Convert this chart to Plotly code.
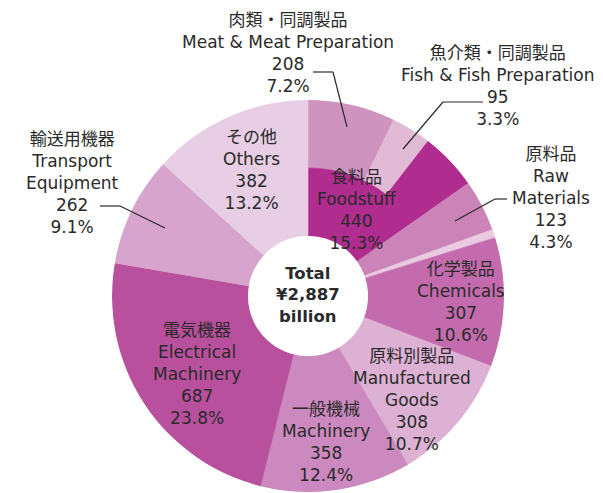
import plotly.graph_objects as go

# ---------------- data ----------------
total_value = 2887
total_label = ["Total", "¥2,887", "billion"]

# main categories clockwise from 12 o'clock
categories_jp = ["食料品", "原料品", "鉱物性燃料", "化学製品", "原料別製品", "一般機械", "電気機器", "輸送用機器", "その他"]
categories_en = ["Foodstuff", "Raw<br>Materials", "Mineral Fuels", "Chemicals", "Manufactured<br>Goods",
                 "Machinery", "Electrical<br>Machinery", "Transport<br>Equipment", "Others"]
values = [440, 123, 20, 307, 308, 358, 687, 262, 382]
pct_labels = ["15.3%", "4.3%", "", "10.6%", "10.7%", "12.4%", "23.8%", "9.1%", "13.2%"]
colors = ["#B02C8E", "#CB83B8", "#E9CAE1", "#C46BAE", "#DDB1D4", "#CC89BF", "#B9509E", "#D6A4CC", "#E8CEE5"]

# sub-categories of Foodstuff (outer ring)
sub_jp = ["肉類・同調製品", "魚介類・同調製品"]
sub_en = ["Meat & Meat Preparation", "Fish & Fish Preparation"]
sub_values = [208, 95]
sub_pct = ["7.2%", "3.3%"]
sub_colors = ["#CE93BF", "#E1BAD6"]

# ---------------- geometry (styling) ----------------
W, H = 603, 493
CX, CY, R, HOLE = 308, 296, 196, 60
R_INNER = 128  # radius where foodstuff sub-ring starts
deg_per = 360.0 / total_value
TXT = "#2a2a2a"
FONT = "DejaVu Sans, Noto Sans CJK JP, sans-serif"

thetas, widths, bases, rs, cols = [], [], [], [], []
ring = R - HOLE
inner = R_INNER - HOLE

sub_start = 0.0
for v, c in zip(sub_values, sub_colors):
    w = v * deg_per
    thetas.append(sub_start + w / 2); widths.append(w); bases.append(inner); rs.append(ring - inner); cols.append(c)
    sub_start += w
sub_total_deg = sum(sub_values) * deg_per
thetas.append(sub_total_deg / 2); widths.append(sub_total_deg); bases.append(0); rs.append(inner); cols.append(colors[0])
food_deg = values[0] * deg_per
thetas.append((sub_total_deg + food_deg) / 2); widths.append(food_deg - sub_total_deg); bases.append(0); rs.append(ring); cols.append(colors[0])
start = food_deg
for v, c in zip(values[1:], colors[1:]):
    w = v * deg_per
    thetas.append(start + w / 2); widths.append(w); bases.append(0); rs.append(ring); cols.append(c)
    start += w

fig = go.Figure()
fig.add_trace(go.Barpolar(
    theta=thetas, width=widths, base=bases, r=rs,
    marker=dict(color=cols, line=dict(color=cols, width=0.6)),
    hoverinfo="skip", showlegend=False,
))

fig.update_layout(
    width=W, height=H,
    margin=dict(l=0, r=0, t=0, b=0),
    paper_bgcolor="white", plot_bgcolor="white",
    polar=dict(
        domain=dict(x=[(CX - R) / W, (CX + R) / W], y=[1 - (CY + R) / H, 1 - (CY - R) / H]),
        hole=HOLE / R,
        bgcolor="white",
        radialaxis=dict(range=[0, ring], visible=False, showgrid=False),
        angularaxis=dict(rotation=90, direction="clockwise", visible=False, showgrid=False),
        bargap=0,
    ),
    font=dict(family=FONT, color=TXT, size=16),
)

def px(x, y):
    return x / W, 1 - y / H

def label(x, y, text, size=17):
    ax, ay = px(x, y)
    fig.add_annotation(x=ax, y=ay, xref="paper", yref="paper", text=text, showarrow=False,
                       font=dict(size=size, color=TXT, family=FONT), align="center",
                       xanchor="center", yanchor="middle")

def fmt(jp, en, v, p):
    return f"{jp}<br>{en}<br>{v}<br>{p}"

# label block centres (pixels)
pos_main = [(357, 210), (551, 198), None, (461, 302), (412, 400), (326, 442), (197, 374), (72, 183), (251, 170)]
for jp, en, v, p, pos in zip(categories_jp, categories_en, values, pct_labels, pos_main):
    if pos is None:
        continue
    label(pos[0], pos[1], fmt(jp, en, v, p))

pos_sub = [(288, 53), (497, 86)]
for jp, en, v, p, pos in zip(sub_jp, sub_en, sub_values, sub_pct, pos_sub):
    label(pos[0], pos[1], fmt(jp, en, v, p))

label(CX, 295, "<b>" + "<br>".join(total_label) + "</b>", size=16.5)
fig.add_shape(type="circle", xref="paper", yref="paper",
              x0=(CX - HOLE) / W, x1=(CX + HOLE) / W, y0=1 - (CY + HOLE) / H, y1=1 - (CY - HOLE) / H,
              line=dict(width=0), fillcolor="white", layer="below")

# leader lines
leaders = [
    [(313, 72), (333, 72), (347, 127)],
    [(483, 102), (443, 102), (403, 149)],
    [(507, 199), (495, 199), (455, 221)],
    [(100, 206), (120, 206), (165, 228)],
]
for pts in leaders:
    for (x0, y0), (x1, y1) in zip(pts[:-1], pts[1:]):
        a0, b0 = px(x0, y0); a1, b1 = px(x1, y1)
        fig.add_shape(type="line", xref="paper", yref="paper", x0=a0, y0=b0, x1=a1, y1=b1,
                      line=dict(color=TXT, width=1.2))

fig.write_html("out.html", config={"displayModeBar": False, "staticPlot": True},
               post_script="document.body.style.margin='0';document.body.style.overflow='hidden';")
